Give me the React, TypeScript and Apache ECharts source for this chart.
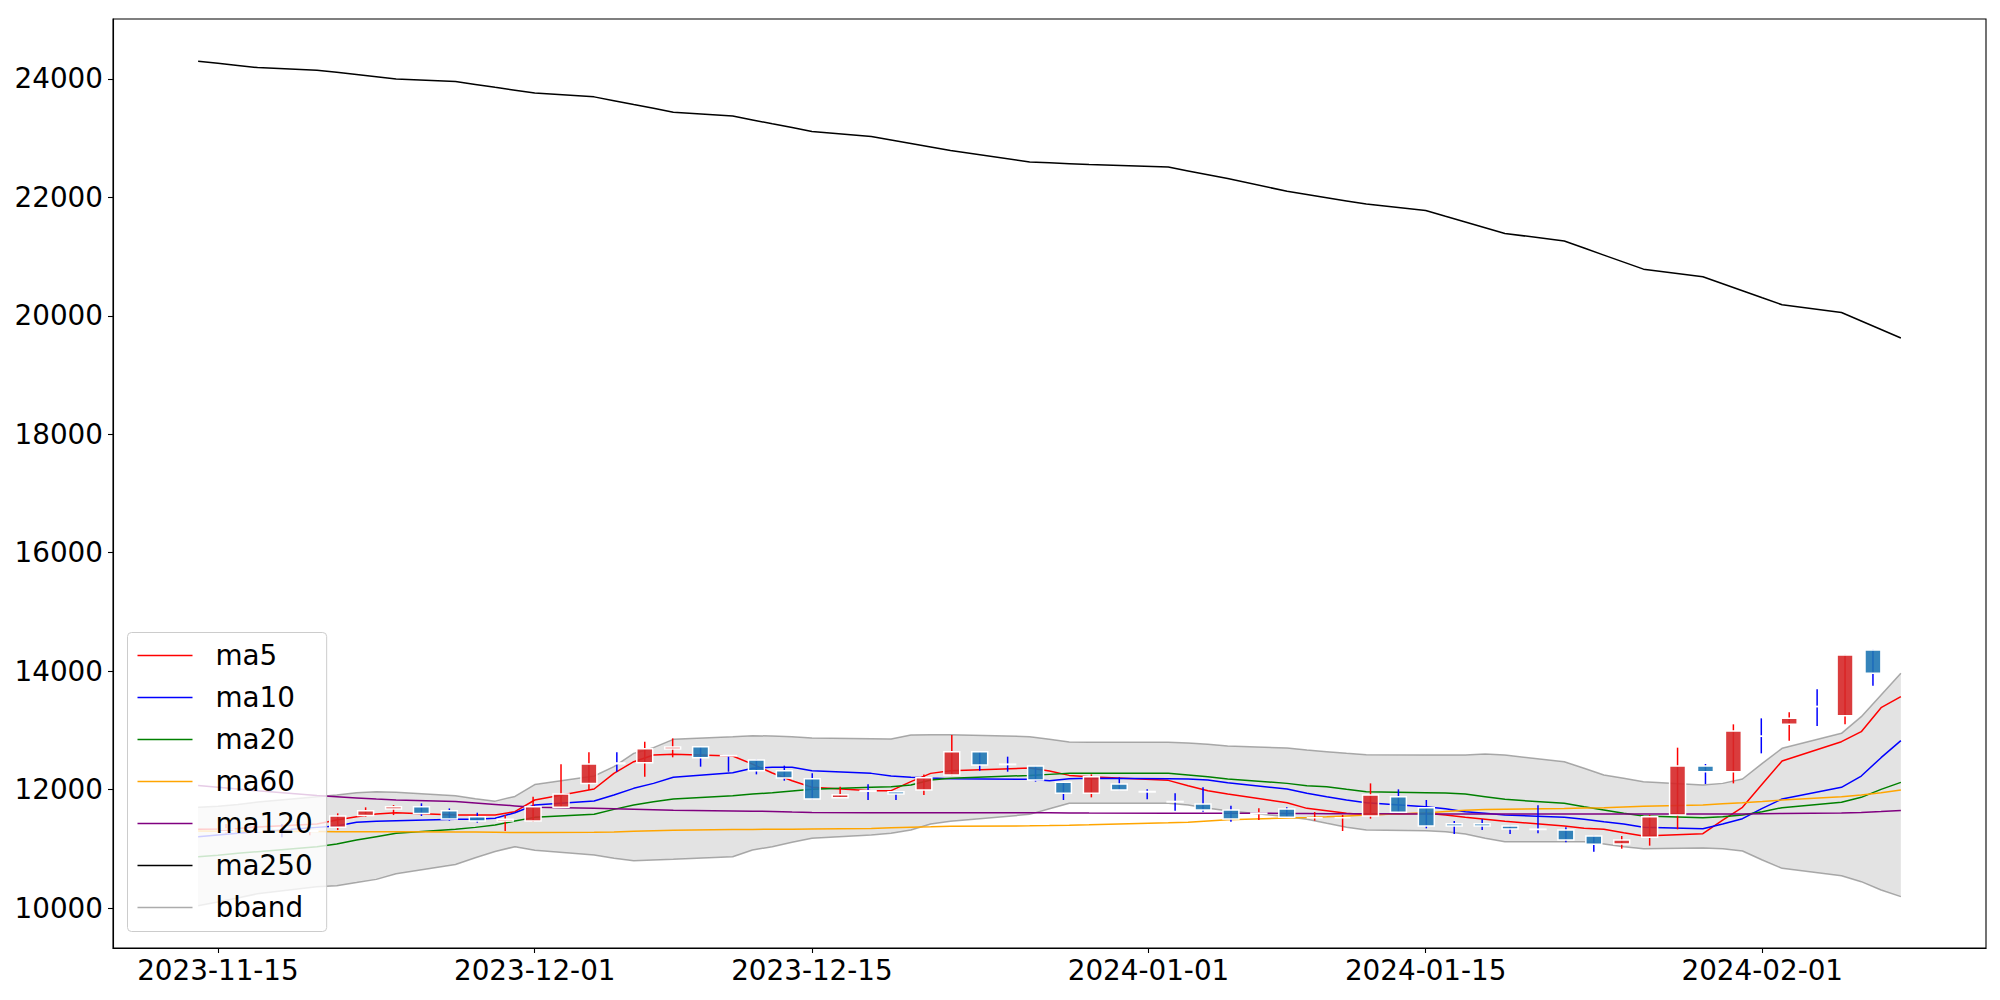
import React, { useEffect, useRef } from "react";
import * as echarts from "echarts";

// ---------- data ----------
const dates = [
  "2023-11-14", "2023-11-15", "2023-11-16", "2023-11-17", "2023-11-20", "2023-11-21", "2023-11-22", "2023-11-23", "2023-11-24", "2023-11-27",
  "2023-11-28", "2023-11-29", "2023-11-30", "2023-12-01", "2023-12-04", "2023-12-05", "2023-12-06", "2023-12-07", "2023-12-08", "2023-12-11",
  "2023-12-12", "2023-12-13", "2023-12-14", "2023-12-15", "2023-12-18", "2023-12-19", "2023-12-20", "2023-12-21", "2023-12-22", "2023-12-26",
  "2023-12-27", "2023-12-28", "2023-12-29", "2024-01-02", "2024-01-03", "2024-01-04", "2024-01-05", "2024-01-08", "2024-01-09", "2024-01-10",
  "2024-01-11", "2024-01-12", "2024-01-15", "2024-01-16", "2024-01-17", "2024-01-18", "2024-01-19", "2024-01-22", "2024-01-23", "2024-01-24",
  "2024-01-25", "2024-01-26", "2024-01-29", "2024-01-30", "2024-01-31", "2024-02-01", "2024-02-02", "2024-02-05", "2024-02-06", "2024-02-07",
  "2024-02-08",
];

const ma5 = [
  11330, 11335, 11345, 11370, 11419, 11486, 11543, 11588, 11610, 11570,
  11571, 11571, 11627, 11824, 12010, 12274, 12471, 12584, 12595, 12567,
  12430, 12280, 12150, 12040, 11982, 11982, 12134, 12274, 12319, 12364,
  12314, 12240, 12218, 12156, 12066, 11982, 11925, 11779, 11683, 11644,
  11599, 11576, 11599, 11571, 11531, 11498, 11464, 11385, 11346, 11329,
  11272, 11216, 11256, 11486, 11700, 12094, 12483, 12809, 12978, 13383,
  13569,
];
const ma10 = [
  11205, 11233, 11261, 11289, 11362, 11385, 11447, 11464, 11475, 11498,
  11498, 11515, 11610, 11740, 11807, 11908, 12021, 12105, 12207, 12286,
  12359, 12376, 12376, 12319, 12274, 12229, 12207, 12195, 12184, 12173,
  12150, 12184, 12190, 12184, 12179, 12162, 12117, 12010, 11937, 11880,
  11824, 11779, 11711, 11678, 11627, 11599, 11571, 11531, 11498, 11458,
  11419, 11363, 11340, 11419, 11509, 11683, 11841, 12038, 12229, 12539,
  12826,
];
const ma20 = [
  10867, 10890, 10923, 10952, 11036, 11081, 11149, 11205, 11261, 11330,
  11362, 11402, 11469, 11531, 11582, 11666, 11740, 11796, 11841, 11897,
  11925, 11948, 11976, 12004, 12038, 12049, 12077, 12162, 12190, 12240,
  12257, 12274, 12274, 12274, 12246, 12218, 12179, 12105, 12066, 12049,
  12004, 11965, 11948, 11942, 11925, 11880, 11835, 11768, 11711, 11655,
  11599, 11554, 11526, 11543, 11571, 11627, 11695, 11785, 11869, 12004,
  12122,
];
const ma60 = [
  11300, 11298, 11296, 11295, 11293, 11290, 11290, 11288, 11288, 11285,
  11285, 11280, 11275, 11275, 11278, 11285, 11295, 11305, 11315, 11325,
  11328, 11330, 11332, 11335, 11345, 11355, 11365, 11372, 11380, 11388,
  11392, 11398, 11405, 11440, 11450, 11470, 11490, 11520, 11528, 11540,
  11555, 11570, 11605, 11630, 11650, 11662, 11670, 11680, 11688, 11695,
  11706, 11717, 11740, 11760, 11779, 11800, 11824, 11880, 11908, 11948,
  11993,
];
const ma120 = [
  12070, 12040, 12010, 11980, 11900, 11880, 11860, 11840, 11825, 11800,
  11775, 11750, 11725, 11700, 11685, 11678, 11670, 11660, 11650, 11640,
  11636, 11630, 11620, 11612, 11610, 11610, 11610, 11610, 11610, 11610,
  11608, 11606, 11604, 11600, 11600, 11600, 11600, 11598, 11595, 11592,
  11590, 11590, 11588, 11588, 11588, 11588, 11588, 11588, 11588, 11588,
  11588, 11588, 11588, 11588, 11588, 11592, 11596, 11605, 11615, 11630,
  11649,
];
const ma250 = [
  24300, 24264, 24228, 24192, 24149, 24112, 24075, 24037, 23999, 23956,
  23908, 23859, 23811, 23762, 23698, 23633, 23568, 23504, 23439, 23374,
  23309, 23244, 23180, 23115, 23029, 22970, 22911, 22852, 22793, 22598,
  22584, 22570, 22556, 22512, 22447, 22383, 22318, 22104, 22050, 21996,
  21941, 21887, 21779, 21682, 21586, 21489, 21392, 21264, 21145, 21026,
  20908, 20789, 20660, 20542, 20424, 20305, 20187, 20057, 19914, 19770,
  19626,
];
const bbUpper = [
  11700, 11720, 11750, 11790, 11880, 11910, 11945, 11965, 11955, 11895,
  11845, 11805, 11885, 12085, 12229, 12387, 12612, 12708, 12849, 12894,
  12910, 12905, 12894, 12871, 12860, 12854, 12922, 12927, 12927, 12894,
  12849, 12804, 12798, 12798, 12787, 12764, 12736, 12702, 12668, 12640,
  12612, 12590, 12584, 12584, 12584, 12601, 12584, 12471, 12359, 12246,
  12190, 12134, 12077, 12105, 12179, 12443, 12697, 12950, 13231, 13597,
  13963,
];
const bbLower = [
  10040, 10100, 10170, 10240, 10360, 10377, 10430, 10484, 10580, 10735,
  10850, 10955, 11036, 10975, 10895, 10839, 10799, 10811, 10822, 10867,
  10980, 11036, 11109, 11177, 11233, 11261, 11317, 11419, 11464, 11582,
  11677, 11768, 11768, 11768, 11740, 11683, 11644, 11543, 11498, 11430,
  11363, 11317, 11306, 11289, 11250, 11177, 11120, 11120, 11120, 11081,
  11036, 11002, 11014, 11002, 10963, 10811, 10670, 10546, 10445, 10304,
  10192,
];

// candles (evenly spaced in the reference)
const candleOpen = [
  11290, 11300, 11350, 11295, 11363, 11564, 11672, 11709, 11643, 11543,
  11470, 11469, 11700, 12105, 12450, 12454, 12685, 12725, 12575, 12500,
  12319, 12184, 11863, 11980, 11964, 11993, 12246, 12640, 12430, 12398,
  12122, 11937, 12094, 11968, 11800, 11757, 11655, 11595, 11672, 11526,
  11526, 11554, 11880, 11695, 11424, 11424, 11385, 11332, 11317, 11216,
  11081, 11194, 11571, 12398, 12303, 12905, 13102, 13405, 13248, 14357,
];
const candleClose = [
  11335, 11310, 11340, 11305, 11554, 11643, 11709, 11598, 11503, 11469,
  11498, 11711, 11925, 12432, 12435, 12691, 12719, 12539, 12570, 12319,
  12195, 11841, 11914, 11972, 11925, 12201, 12640, 12415, 12422, 12162,
  11937, 12218, 11993, 11960, 11792, 11655, 11503, 11603, 11531, 11526,
  11526, 11908, 11616, 11385, 11385, 11385, 11334, 11326, 11149, 11075,
  11149, 11543, 12398, 12303, 12989, 12900, 13203, 13400, 14273, 13963,
];
const candleLow = [
  11260, 11270, 11195, 11228, 11317, 11542, 11570, 11554, 11475, 11441,
  11301, 11458, 11690, 11993, 12302, 12218, 12545, 12387, 12302, 12257,
  12150, 11835, 11860, 11824, 11824, 11908, 12240, 12319, 12302, 12134,
  11824, 11869, 11990, 11835, 11644, 11627, 11458, 11486, 11528, 11475,
  11301, 11509, 11610, 11346, 11250, 11317, 11250, 11261, 11109, 10952,
  11002, 11053, 11329, 12094, 12105, 12612, 12826, 13074, 13102, 13755,
];
const candleHigh = [
  11420, 11400, 11420, 11373, 11599, 11700, 11739, 11768, 11682, 11610,
  11571, 11880, 12426, 12629, 12629, 12809, 12865, 12728, 12575, 12505,
  12404, 12274, 12049, 12089, 11970, 12257, 12922, 12645, 12556, 12400,
  12125, 12257, 12207, 12004, 11937, 12038, 11728, 11683, 11700, 11621,
  11571, 12105, 12004, 11824, 11469, 11498, 11390, 11734, 11363, 11220,
  11216, 11571, 12708, 12432, 13102, 13203, 13304, 13693, 14275, 14360,
];

const xTickLabels = ["2023-11-15", "2023-12-01", "2023-12-15", "2024-01-01", "2024-01-15", "2024-02-01"];
const yTickValues = [10000, 12000, 14000, 16000, 18000, 20000, 22000, 24000];
const legendNames = ["ma5", "ma10", "ma20", "ma60", "ma120", "ma250", "bband"];

// ---------- helpers ----------
const ts = (s: string) => Date.parse(s + "T00:00:00Z");
const fmtDate = (v: number) => {
  const d = new Date(v);
  const p = (n: number) => (n < 10 ? "0" + n : "" + n);
  return d.getUTCFullYear() + "-" + p(d.getUTCMonth() + 1) + "-" + p(d.getUTCDate());
};

const FONT = "DejaVu Sans";

export default function App() {
  const ref = useRef<HTMLDivElement>(null);

  useEffect(() => {
    if (!ref.current) return;
    const chart = echarts.init(ref.current, null, { renderer: "svg" });

    const t0 = ts(dates[0]);
    const t1 = ts(dates[dates.length - 1]);
    const tPad = (t1 - t0) * 0.05;
    const n = candleOpen.length;
    const span = n + 1;
    const cMin = -1 - span * 0.05;
    const cMax = n + span * 0.05;

    const xTickTs = xTickLabels.map(ts);
    const dateTs = dates.map(ts);

    const lineSeries = (name: string, arr: number[], color: string, width = 1.5, z = 2) => ({
      name,
      type: "line",
      xAxisIndex: 0,
      yAxisIndex: 0,
      data: dateTs.map((t, i) => [t, arr[i]]),
      showSymbol: false,
      symbol: "none",
      lineStyle: { color, width },
      itemStyle: { color },
      z,
      silent: true,
      emphasis: { disabled: true },
    });

    const bandColor = "rgba(128,128,128,0.65)";

    const option: any = {
      animation: false,
      backgroundColor: "#ffffff",
      textStyle: { fontFamily: FONT },
      grid: {
        left: 113,
        right: 14,
        top: 19,
        bottom: 52,
        show: true,
        borderColor: "#000000",
        borderWidth: 1.1,
        backgroundColor: "transparent",
        containLabel: false,
      },
      xAxis: [
        {
          type: "value",
          min: t0 - tPad,
          max: t1 + tPad,
          scale: true,
          splitLine: { show: false },
          axisLine: { show: true, onZero: false, lineStyle: { color: "#000", width: 1.1 } },
          axisTick: {
            show: true,
            length: 5,
            lineStyle: { color: "#000", width: 1.1 },
            customValues: xTickTs,
          },
          axisLabel: {
            show: true,
            customValues: xTickTs,
            fontFamily: FONT,
            fontSize: 27.8,
            color: "#000",
            margin: 8,
            hideOverlap: false,
            formatter: (v: number) => {
              for (const t of xTickTs) if (Math.abs(t - v) < 3600000) return fmtDate(t);
              return "";
            },
          },
        },
        {
          type: "value",
          min: cMin,
          max: cMax,
          show: false,
          axisLine: { show: false, onZero: false },
          axisTick: { show: false },
          axisLabel: { show: false },
          splitLine: { show: false },
        },
      ],
      yAxis: [
        {
          type: "value",
          min: 9325,
          max: 25013,
          splitNumber: 8,
          splitLine: { show: false },
          axisLine: { show: true, onZero: false, lineStyle: { color: "#000", width: 1.1 } },
          axisTick: {
            show: true,
            length: 5,
            lineStyle: { color: "#000", width: 1.1 },
            customValues: yTickValues,
          },
          axisLabel: {
            show: true,
            customValues: yTickValues,
            fontFamily: FONT,
            fontSize: 27.8,
            color: "#000",
            margin: 10,
            formatter: (v: number) => (yTickValues.indexOf(v) >= 0 ? String(v) : ""),
          },
        },
      ],
      legend: {
        show: true,
        orient: "vertical",
        left: 127.5,
        top: 632.5,
        padding: [7, 14, 8, 10],
        itemGap: 10,
        itemWidth: 55,
        itemHeight: 1.6,
        icon: "rect",
        selectedMode: false,
        backgroundColor: "rgba(255,255,255,0.8)",
        borderColor: "#cccccc",
        borderWidth: 1,
        borderRadius: 4,
        data: legendNames.map((nm) => ({ name: nm, icon: "rect" })),
        textStyle: {
          fontFamily: FONT,
          fontSize: 27.8,
          color: "#000",
          lineHeight: 32,
          padding: [0, 0, 0, 18],
        },
        z: 10,
      },
      series: [
        {
          name: "bbandFill",
          type: "custom",
          xAxisIndex: 0,
          yAxisIndex: 0,
          z: 1,
          silent: true,
          encode: { x: 0, y: 1 },
          data: [[dateTs[0], bbLower[0]]],
          renderItem: (params: any, api: any) => {
            const pts: number[][] = [];
            for (let i = 0; i < dateTs.length; i++) pts.push(api.coord([dateTs[i], bbUpper[i]]));
            for (let i = dateTs.length - 1; i >= 0; i--) pts.push(api.coord([dateTs[i], bbLower[i]]));
            return {
              type: "polygon",
              shape: { points: pts },
              style: { fill: "rgba(128,128,128,0.22)" },
            };
          },
        },
        lineSeries("bband", bbLower, bandColor, 1.5, 1),
        lineSeries("bband", bbUpper, bandColor, 1.5, 1),
        lineSeries("ma5", ma5, "#ff0000"),
        lineSeries("ma10", ma10, "#0000ff"),
        lineSeries("ma20", ma20, "#008000"),
        lineSeries("ma60", ma60, "#ffa500"),
        lineSeries("ma120", ma120, "#800080"),
        lineSeries("ma250", ma250, "#000000"),
        {
          name: "candles",
          type: "custom",
          xAxisIndex: 1,
          yAxisIndex: 0,
          z: 3,
          silent: true,
          encode: { x: 0, y: [1, 2, 3, 4] },
          data: candleOpen.map((o, i) => [i, o, candleClose[i], candleLow[i], candleHigh[i]]),
          renderItem: (params: any, api: any) => {
            const i = api.value(0);
            const o = api.value(1);
            const c = api.value(2);
            const l = api.value(3);
            const h = api.value(4);
            const up = c >= o;
            const pHi = api.coord([i, h]);
            const pLo = api.coord([i, l]);
            const pTop = api.coord([i, Math.max(o, c)]);
            const pBot = api.coord([i, Math.min(o, c)]);
            const w = api.size([1, 0])[0] * 0.57;
            return {
              type: "group",
              children: [
                {
                  type: "line",
                  shape: { x1: pHi[0], y1: pHi[1], x2: pLo[0], y2: pLo[1] },
                  style: { stroke: up ? "#ff0000" : "#0000ff", lineWidth: 1.5 },
                },
                {
                  type: "rect",
                  shape: { x: pTop[0] - w / 2, y: pTop[1], width: w, height: pBot[1] - pTop[1] },
                  style: {
                    fill: up ? "rgba(214,39,40,0.9)" : "rgba(31,119,180,0.9)",
                    stroke: "#ffffff",
                    lineWidth: 1.5,
                  },
                },
              ],
            };
          },
        },
      ],
    };

    chart.setOption(option);
    return () => {
      chart.dispose();
    };
  }, []);

  return (
    <div
      ref={ref}
      style={{ position: "absolute", left: 0, top: 0, width: 2000, height: 1000 }}
    />
  );
}
